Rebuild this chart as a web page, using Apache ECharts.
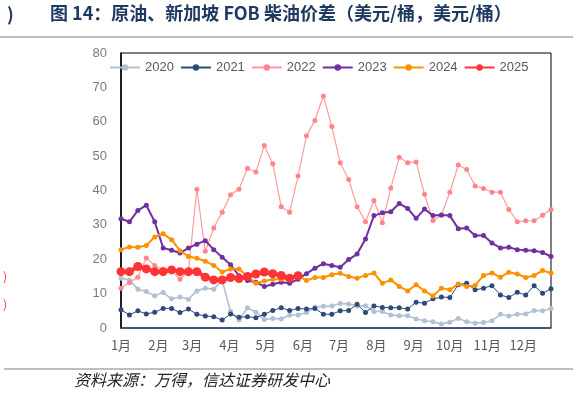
<!DOCTYPE html>
<html>
<head>
<meta charset="utf-8">
<script src="https://cdn.jsdelivr.net/npm/echarts@6/dist/echarts.min.js"></script>
<style>
html,body{margin:0;padding:0;background:#fff;}
#c{width:577px;height:394px;}
</style>
</head>
<body>
<div id="c"></div>
<script>
// ---- data (weekly observations, values in USD/bbl) ----
const monthLabels = ['1月','2月','3月','4月','5月','6月','7月','8月','9月','10月','11月','12月'];
const monthStartDays = [0,31,59,90,120,151,181,212,243,273,304,334];
const yTicks = [0,10,20,30,40,50,60,70,80];
const seriesNames = ['2020','2021','2022','2023','2024','2025'];

const s2020 = [14.5,14.0,11.3,10.6,9.4,10.3,8.5,9.0,8.4,10.8,11.6,11.3,13.8,4.8,2.3,5.9,4.6,2.5,2.8,2.6,3.8,3.8,4.5,6.1,6.3,6.4,7.1,7.0,6.4,6.5,4.8,4.8,3.8,3.6,3.6,2.6,2.1,1.8,1.2,1.7,2.8,1.8,1.4,1.6,2.1,4.0,3.5,4.0,4.1,5.1,5.0,5.7];
const s2021 = [5.3,3.8,5.0,4.1,4.6,5.7,5.7,4.5,5.5,4.0,3.5,3.3,2.3,4.1,3.1,3.3,3.0,4.0,5.1,5.9,5.1,5.7,5.5,5.7,4.0,4.0,5.0,5.1,6.9,4.5,6.4,6.0,5.9,5.9,5.5,7.5,7.2,8.5,9.0,8.9,12.6,13.0,11.1,11.6,12.3,9.6,8.9,10.4,9.6,12.3,10.1,11.4];
const s2022 = [11.6,13.2,14.8,20.4,18.2,17.0,16.6,14.2,16.5,40.4,22.3,29.1,33.7,38.8,40.4,46.4,45.4,53.1,47.8,35.3,33.7,44.2,55.9,60.4,67.5,58.6,48.1,43.2,35.3,30.9,37.1,30.6,40.7,49.7,48.1,48.3,38.9,31.3,32.8,39.5,47.4,46.1,41.3,40.6,39.5,39.5,34.5,30.9,31.2,31.2,32.8,34.5];
const s2023 = [31.8,30.9,34.2,35.7,30.9,23.3,22.6,21.8,23.3,24.4,25.4,22.8,20.6,18.4,15.2,13.8,13.3,12.1,12.7,13.3,13.0,14.2,15.8,17.4,18.7,18.2,17.7,19.9,21.5,25.9,32.7,33.5,33.8,36.2,34.8,31.9,34.6,32.7,32.9,32.7,28.9,29.1,26.9,26.9,24.7,23.3,23.5,22.8,22.6,22.5,22.0,20.8];
const s2024 = [22.8,23.6,23.5,24.0,26.5,27.4,25.7,22.5,20.8,20.3,19.4,18.2,16.3,17.2,17.2,15.0,13.0,13.7,14.2,14.2,14.2,15.2,13.8,14.7,14.7,15.5,15.9,15.0,14.5,15.3,16.0,13.0,14.0,12.1,10.8,12.6,10.8,9.3,11.6,11.1,12.8,12.1,12.4,15.3,16.0,14.8,16.2,15.7,14.7,15.3,16.7,16.0];
const s2025 = [16.4,16.4,17.9,17.2,16.4,16.4,16.9,16.4,16.4,16.4,14.8,14.0,14.0,14.7,14.4,15.0,15.7,16.3,15.8,15.3,14.5,15.2];
const DAYS_PER_WEEK = 7;

// ---- build ----
function toPoints(vals){ return vals.map((v,i)=>[i*DAYS_PER_WEEK, v]); }
const allVals = [s2020,s2021,s2022,s2023,s2024,s2025];
const styles = [
  {color:'#B3BFD3', width:1.6, size:5},
  {color:'#2E4A7B', width:1, size:5},
  {color:'#FF9A9E', width:1.2, size:5, mcolor:'#FF8588'},
  {color:'#7030A0', width:2, size:5},
  {color:'#FF9000', width:2, size:5},
  {color:'#FF3336', width:4, size:9}
];

const chart = echarts.init(document.getElementById('c'), null, {renderer:'canvas'});
const series = allVals.map((vals,k)=>({
  name: seriesNames[k],
  type: 'line',
  data: toPoints(vals),
  symbol: 'circle',
  symbolSize: styles[k].size,
  showSymbol: true,
  lineStyle: {color: styles[k].color, width: styles[k].width},
  itemStyle: {color: styles[k].mcolor || styles[k].color},
  emphasis: {disabled: true},
  animation: false,
  z: 2 + k
}));

chart.setOption({
  animation: false,
  backgroundColor: '#fff',
  textStyle: {fontFamily: 'Liberation Sans, Noto Sans CJK SC, sans-serif'},
  grid: {left: 121, right: 26, top: 53, bottom: 66, show: true, borderColor: '#000', borderWidth: 1, containLabel: false},
  legend: {
    left: 104, top: 56,
    itemWidth: 30, itemHeight: 8, itemGap: 6,
    textStyle: {color: '#595959', fontSize: 13, fontFamily: 'Liberation Sans, sans-serif'},
    data: seriesNames
  },
  xAxis: {
    type: 'value', min: 0, max: 357,
    splitLine: {show: false},
    axisTick: {show: false},
    axisLine: {show: true, lineStyle: {color: '#2F4B7C', width: 1.5}},
    axisLabel: {
      color: '#595959', fontSize: 13, margin: 11,
      fontFamily: 'Noto Sans CJK SC, sans-serif',
      customValues: monthStartDays,
      formatter: function(v){ const i = monthStartDays.indexOf(Math.round(v)); return i >= 0 ? monthLabels[i] : ''; }
    }
  },
  yAxis: {
    type: 'value', min: yTicks[0], max: yTicks[yTicks.length-1], interval: 10,
    splitLine: {show: false},
    axisTick: {show: false},
    axisLine: {show: true, lineStyle: {color: '#000', width: 1.5}},
    axisLabel: {color: '#7A7A7A', fontSize: 13, margin: 14, fontFamily: 'Liberation Sans, sans-serif'}
  },
  graphic: [
    {type: 'text', left: 7, top: 5, style: {text: ')', fill: '#1F3A60', font: 'bold 18px "Noto Sans CJK SC", sans-serif'}},
    {type: 'text', left: 50, top: 4, style: {text: '图 14：原油、新加坡 FOB 柴油价差（美元/桶，美元/桶）', fill: '#1F3A60', font: 'bold 18px "Noto Sans CJK SC", sans-serif'}},
    {type: 'line', shape: {x1: 0, y1: 37, x2: 573, y2: 37}, style: {stroke: '#7F7F7F', lineWidth: 1.2}},
    {type: 'text', left: 3, top: 270, style: {text: ')', fill: '#FF3333', font: '12px "Noto Sans CJK SC", sans-serif'}},
    {type: 'text', left: 3, top: 298, style: {text: ')', fill: '#FF3333', font: '12px "Noto Sans CJK SC", sans-serif'}},
    {type: 'line', shape: {x1: 4, y1: 369, x2: 573, y2: 369}, style: {stroke: '#7F7F7F', lineWidth: 1.2}},
    {type: 'text', left: 74, top: 372, style: {text: '资料来源：万得，信达证券研发中心', fill: '#222', font: 'italic 16px "Noto Sans CJK SC", sans-serif'}}
  ],
  series: series
});
</script>
</body>
</html>
